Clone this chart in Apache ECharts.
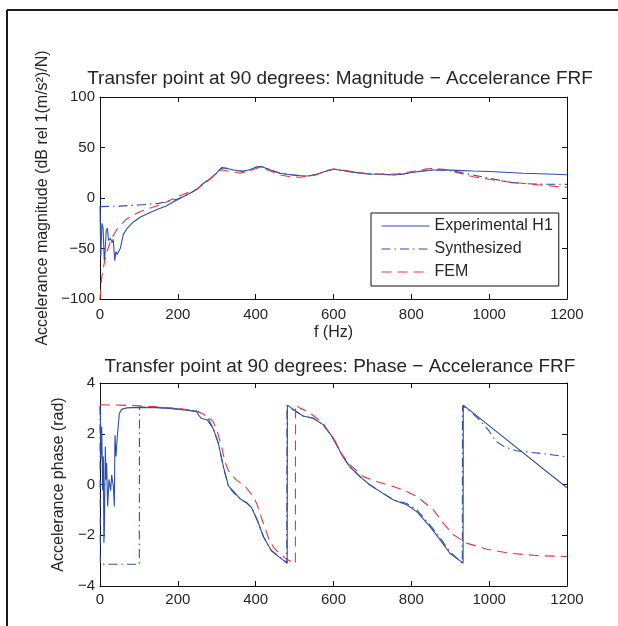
<!DOCTYPE html>
<html>
<head>
<meta charset="utf-8">
<script src="https://cdn.jsdelivr.net/npm/echarts@6/dist/echarts.min.js"></script>
<style>
html,body{margin:0;padding:0;background:#fff;}
#c{width:618px;height:626px;}
</style>
</head>
<body>
<div id="c"></div>
<script>
// ---- tick settings ----
var freqTicks = [0, 200, 400, 600, 800, 1000, 1200];
var magTicks = [-100, -50, 0, 50, 100];
var phaseTicks = [-4, -2, 0, 2, 4];

// ---- Magnitude: Experimental H1 ----
var magExpF = [0, 2, 5, 8, 11, 13, 16, 19, 22, 27, 31, 34, 38, 41, 44, 47, 52, 56, 60, 70, 85, 103, 130, 150, 170, 188, 200, 231, 250, 266, 280, 295, 305, 313, 325, 340, 355, 368, 385, 400, 411, 420, 440, 463, 490, 523, 540, 557, 580, 600, 620, 642, 670, 694, 720, 754, 780, 797, 830, 856, 885, 916, 960, 1002, 1050, 1088, 1150, 1200];
var magExpV = [-8, -58, -25, -30, -62, -55, -32, -30, -42, -40, -44, -41, -62, -53, -56, -55, -50, -43, -36, -30, -24, -19, -14, -11, -8, -4, -1.5, 4.6, 9, 14.6, 18, 23, 27, 30, 29.5, 28, 27, 26.5, 28, 30.5, 31.2, 30.5, 27.5, 24.5, 23, 21.8, 22, 23.6, 26.5, 28.4, 27.5, 26.1, 24.6, 23.8, 23.5, 22.8, 23.8, 25, 26.8, 27.7, 27.8, 27.4, 26.8, 26.3, 25.3, 24.5, 23.7, 23];

// ---- Magnitude: Synthesized ----
var magSynF = [0, 50, 100, 150, 175, 200, 231, 250, 266, 280, 295, 305, 313, 325, 340, 355, 368, 385, 400, 411, 420, 440, 463, 490, 523, 540, 557, 580, 600, 620, 642, 670, 694, 720, 754, 780, 797, 830, 856, 885, 916, 950, 1002, 1053, 1080, 1113, 1160, 1200];
var magSynV = [-8.5, -8, -7, -5.3, -3.5, -1, 4.6, 9, 14.6, 18, 23, 27, 30, 29.5, 28, 27, 26.5, 28, 30.5, 31.2, 30.5, 27.5, 24.5, 23, 21.8, 22, 23.6, 26.5, 28.4, 27.5, 26.1, 24.6, 23.8, 23.5, 22.8, 23.8, 25, 26.8, 27.7, 27.6, 26.1, 23.5, 19.5, 15.5, 14.5, 13.9, 13.6, 13.5];

// ---- Magnitude: FEM ----
var magFemF = [0, 2, 4, 8, 13, 19, 25, 33, 42, 55, 68, 85, 103, 125, 145, 170, 197, 220, 250, 280, 300, 313, 330, 360, 385, 411, 430, 463, 490, 514, 535, 557, 580, 600, 620, 650, 680, 711, 763, 790, 814, 840, 861, 880, 899, 930, 959, 1000, 1045, 1090, 1130, 1170, 1200];
var magFemV = [-100, -90, -80, -70, -61, -52, -45, -38, -32, -26, -21, -17, -13.6, -10.5, -8, -4, 1, 4.5, 9, 18, 25, 28, 26.5, 24.5, 27, 30.4, 28, 22.8, 21, 20.5, 21.5, 23, 27, 28.7, 28, 26, 24.5, 23.8, 23.8, 25.5, 27.1, 28.8, 29.4, 28.5, 27.1, 24, 21.1, 18.5, 16.2, 14.3, 12.9, 11.5, 10.6];

// ---- Phase: Experimental H1 ----
var phExpF = [0, 1, 2, 4.3, 6.9, 8.6, 10, 11.1, 13.7, 15.4, 17.1, 19.7, 23.1, 27.4, 30, 34.3, 36.8, 38.5, 41.1, 44.5, 49.7, 55.7, 68.5, 100, 150, 200, 248, 255, 261, 275, 291, 304, 317, 330, 345, 359, 379, 389, 404, 420, 440, 460, 481, 481.5, 505, 522, 548, 574, 600, 621, 642, 668, 694, 720, 754, 788, 814, 848, 874, 899, 933, 933.5, 1200];
var phExpV = [3.0, 2.9, 1.0, 2.28, -0.24, 1.1, -2.3, -1.9, 1.5, 0.2, 0.85, -0.87, 0.2, -0.24, 0.38, -0.08, -0.87, 1.95, 1.1, 1.89, 2.8, 2.96, 3.02, 3.04, 3.03, 2.97, 2.88, 2.7, 2.6, 2.55, 2.2, 1.63, 0.7, -0.05, -0.3, -0.55, -0.75, -0.9, -1.4, -2.06, -2.6, -2.85, -3.1, 3.13, 2.87, 2.7, 2.61, 2.35, 1.82, 1.17, 0.7, 0.31, -0.02, -0.28, -0.61, -0.8, -1.07, -1.66, -2.18, -2.71, -3.1, 3.13, -0.13];

// ---- Phase: Synthesized ----
var phSynF = [0, 0.8, 50, 101, 101.5, 150, 200, 248, 265, 280, 291, 304, 317, 330, 345, 359, 379, 389, 404, 420, 440, 460, 480, 480.5, 505, 522, 548, 574, 600, 621, 642, 668, 694, 720, 754, 788, 814, 848, 874, 899, 931, 931.5, 950, 976, 1000, 1019, 1040, 1070, 1110, 1148, 1200];
var phSynV = [3.1, -3.14, -3.14, -3.14, 3.05, 3.03, 2.97, 2.88, 2.8, 2.55, 2.2, 1.63, 0.7, -0.08, -0.35, -0.55, -0.75, -0.9, -1.4, -2.06, -2.6, -2.85, -3.1, 3.1, 2.87, 2.7, 2.61, 2.35, 1.82, 1.17, 0.7, 0.31, -0.02, -0.28, -0.6, -0.75, -1.0, -1.6, -2.1, -2.65, -3.1, 3.1, 2.9, 2.54, 2.1, 1.69, 1.48, 1.33, 1.26, 1.2, 1.09];

// ---- Phase: FEM ----
var phFemF = [0, 50, 100, 150, 200, 248, 270, 290, 300, 313, 321, 329, 340, 349, 362, 374, 394, 404, 414, 425, 435, 447, 460, 480, 502, 502.5, 515, 535, 574, 600, 617, 642, 677, 711, 754, 788, 814, 857, 882, 908, 942, 994, 1053, 1121, 1200];
var phFemV = [3.14, 3.13, 3.1, 3.06, 3.0, 2.9, 2.75, 2.5, 2.15, 1.45, 0.9, 0.57, 0.35, 0.2, 0.05, -0.09, -0.48, -0.8, -1.27, -1.75, -2.2, -2.5, -2.7, -2.95, -3.12, 3.14, 3.0, 2.87, 2.41, 1.76, 1.3, 0.78, 0.31, 0.12, -0.08, -0.28, -0.47, -1.0, -1.52, -1.98, -2.31, -2.55, -2.71, -2.8, -2.84];

function zip(a, b) { return a.map(function (x, i) { return [x, b[i]]; }); }

var FONT = "'Liberation Sans', Arial, Helvetica, sans-serif";
var TXT = '#262626';
var BLUE = '#2d4fab';
var RED = '#ec3436';
var DASH = [10, 6];
var DASHDOT = [9, 4, 1.5, 4];

function minusFmt(v) { return String(v).replace('-', '\u2212'); }

function xAx(gridIndex, bottom, labelMargin, name) {
  return {
    type: 'value', gridIndex: gridIndex, position: bottom ? 'bottom' : 'top',
    min: freqTicks[0], max: freqTicks[freqTicks.length - 1], interval: freqTicks[1] - freqTicks[0],
    axisLine: { show: true, onZero: false, lineStyle: { color: '#111', width: 1 } },
    axisTick: { show: true, inside: true, length: 5, lineStyle: { color: '#111' } },
    axisLabel: { show: bottom, margin: labelMargin, fontSize: 15, color: TXT, fontFamily: FONT, formatter: minusFmt },
    splitLine: { show: false },
    name: name || '', nameLocation: 'middle', nameGap: 26,
    nameTextStyle: { fontSize: 16, color: TXT, fontFamily: FONT }
  };
}
function yAx(gridIndex, left, ticks, name, gap) {
  return {
    type: 'value', gridIndex: gridIndex, position: left ? 'left' : 'right',
    min: ticks[0], max: ticks[ticks.length - 1], interval: ticks[1] - ticks[0],
    axisLine: { show: true, onZero: false, lineStyle: { color: '#111', width: 1 } },
    axisTick: { show: true, inside: true, length: 5, lineStyle: { color: '#111' } },
    axisLabel: { show: left, margin: 5, fontSize: 15, color: TXT, fontFamily: FONT, formatter: minusFmt },
    splitLine: { show: false },
    name: name || '', nameLocation: 'middle', nameGap: gap || 0, nameRotate: 90,
    nameTextStyle: { fontSize: 16, color: TXT, fontFamily: FONT }
  };
}
function ser(name, xi, yi, data, color, type) {
  return {
    name: name, type: 'line', xAxisIndex: xi, yAxisIndex: yi, data: data,
    symbol: 'none', showSymbol: false, smooth: false, animation: false,
    legendIcon: 'none',
    lineStyle: { color: color, width: 1.1, type: type },
    itemStyle: { color: color }
  };
}

var chart = echarts.init(document.getElementById('c'), null, { renderer: 'canvas' });
chart.setOption({
  backgroundColor: '#fff',
  animation: false,
  title: [
    { text: 'Transfer point at 90 degrees: Magnitude \u2212 Accelerance FRF', left: 335, top: 64, textAlign: 'center',
      textStyle: { fontSize: 19, fontWeight: 'normal', color: TXT, fontFamily: FONT } },
    { text: 'Transfer point at 90 degrees: Phase \u2212 Accelerance FRF', left: 335, top: 352, textAlign: 'center',
      textStyle: { fontSize: 19, fontWeight: 'normal', color: TXT, fontFamily: FONT } }
  ],
  grid: [
    { left: 100, top: 97, width: 467, height: 202 },
    { left: 100, top: 383, width: 467, height: 203 }
  ],
  xAxis: [
    xAx(0, true, 8, 'f (Hz)'), xAx(0, false, 8),
    xAx(1, true, 6), xAx(1, false, 6)
  ],
  yAxis: [
    yAx(0, true, magTicks, 'Accelerance magnitude (dB rel 1(m/s\u00B2)/N)', 47), yAx(0, false, magTicks),
    yAx(1, true, phaseTicks, 'Accelerance phase (rad)', 28), yAx(1, false, phaseTicks)
  ],
  legend: {
    orient: 'vertical', left: 371, top: 213,
    data: ['Experimental H1', 'Synthesized', 'FEM'],
    itemWidth: 48, itemHeight: 14, itemGap: 7,
    padding: [5, 6, 6, 10],
    borderColor: '#111', borderWidth: 1, backgroundColor: '#fff',
    selectedMode: false,
    itemStyle: { opacity: 0 },
    lineStyle: { width: 1 },
    textStyle: { fontSize: 16, color: TXT, fontFamily: FONT, lineHeight: 16 }
  },
  graphic: [
    { type: 'line', shape: { x1: 7, y1: 10, x2: 618, y2: 10 }, style: { stroke: '#1a1a1a', lineWidth: 2 } },
    { type: 'line', shape: { x1: 7, y1: 10, x2: 7, y2: 626 }, style: { stroke: '#1a1a1a', lineWidth: 2 } }
  ],
  series: [
    ser('Experimental H1', 0, 0, zip(magExpF, magExpV), BLUE, 'solid'),
    ser('Synthesized', 0, 0, zip(magSynF, magSynV), BLUE, DASHDOT),
    ser('FEM', 0, 0, zip(magFemF, magFemV), RED, DASH),
    ser('Experimental H1', 2, 2, zip(phExpF, phExpV), BLUE, 'solid'),
    ser('Synthesized', 2, 2, zip(phSynF, phSynV), BLUE, DASHDOT),
    ser('FEM', 2, 2, zip(phFemF, phFemV), RED, DASH)
  ]
});
</script>
</body>
</html>
